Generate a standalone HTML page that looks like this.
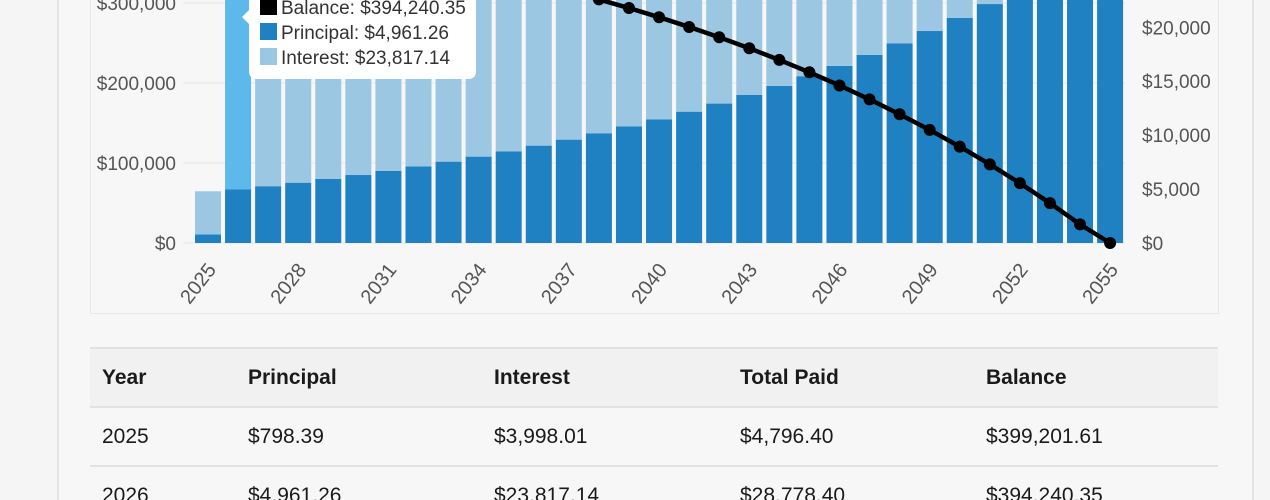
<!DOCTYPE html>
<html><head><meta charset="utf-8"><style>
html,body{margin:0;padding:0;background:#f5f5f5;width:1270px;height:500px;overflow:hidden;}
body{position:relative;font-family:"Liberation Sans",sans-serif;}
#card{position:absolute;left:57px;top:-10px;width:1193px;height:510px;border-left:2px solid #e4e4e4;border-right:2px solid #e4e4e4;background:#f7f7f7;}
#chartbox{position:absolute;left:90px;top:-5px;width:1127px;height:318px;border:1px solid #e8e8e8;border-top:none;background:#f7f7f7;}
svg{position:absolute;left:0;top:0;}
table{position:absolute;left:90px;top:347px;width:1128px;border-collapse:collapse;font-size:21px;color:#1a1a1a;}
th,td{text-align:left;padding:0 0 0 12px;border-top:2px solid #e2e2e2;}
th{height:57px;background:#f1f1f1;font-weight:bold;}
td{height:57px;}
</style></head><body>
<div id="card"></div>
<div id="chartbox"></div>
<svg id="chart" width="1270" height="320"></svg>
<table>
<tr><th style="width:134px">Year</th><th style="width:234px">Principal</th><th style="width:234px">Interest</th><th style="width:234px">Total Paid</th><th>Balance</th></tr>
<tr><td>2025</td><td>$798.39</td><td>$3,998.01</td><td>$4,796.40</td><td>$399,201.61</td></tr>
<tr><td>2026</td><td>$4,961.26</td><td>$23,817.14</td><td>$28,778.40</td><td>$394,240.35</td></tr>
</table>
<script>
const years=[2025,2026,2027,2028,2029,2030,2031,2032,2033,2034,2035,2036,2037,2038,2039,2040,2041,2042,2043,2044,2045,2046,2047,2048,2049,2050,2051,2052,2053,2054,2055];
const principal=[798,4961,5267,5592,5937,6303,6692,7105,7543,8008,8502,9027,9583,10175,10802,11469,12176,12927,13725,14571,15470,16424,17437,18513,19655,20867,22155,23521,24972,26512,23310];
const interest=[3998,23817,23511,23186,22841,22475,22086,21673,21235,20770,20276,19751,19195,18603,17976,17309,16602,15851,15053,14207,13308,12354,11341,10265,9123,7911,6623,5257,3806,2266,672];
const balance=[399202,394240,388973,383381,377444,371141,364449,357344,349801,341793,333291,324264,314681,304506,293704,282235,270059,257132,243407,228836,213366,196942,179505,160992,141337,120470,98315,74794,49822,23310,0];
const leftTicks=[0,100000,200000,300000];
const rightTicks=[0,5000,10000,15000,20000];
const ns='http://www.w3.org/2000/svg';
const svg=document.getElementById('chart');
const X0=208,STEP=30.07,BASE=243;
const xs=i=>X0+i*STEP;
const yL=v=>BASE-v*0.0008;
const yR=v=>BASE-v*0.010785;
function mk(t,a){const e=document.createElementNS(ns,t);for(const k in a)e.setAttribute(k,a[k]);svg.appendChild(e);return e;}
const fmt=v=>'$'+v.toLocaleString('en-US');
leftTicks.forEach(v=>{
 const g=mk('line',{x1:183,x2:1125,y1:yL(v),y2:yL(v),stroke:'#e6e6e6','stroke-width':1});
 
 
 const t=mk('text',{x:176,y:yL(v)+7,'text-anchor':'end','font-size':19,fill:'#555'});
 t.textContent=fmt(v);
 
 
});
rightTicks.forEach(v=>{
 const t=mk('text',{x:1142,y:yR(v)+7,'font-size':19,fill:'#555'});
 t.textContent=fmt(v);
 
 
});
years.forEach((yr,i)=>{
 const x=xs(i)-13,w=26;
 const hov=i===1;
 const p=mk('rect',{x:x,y:yR(principal[i]),width:w,height:BASE-yR(principal[i]),fill:'#1f80c2'});
 
 
 const q=mk('rect',{x:x,y:yR(principal[i]+interest[i]),width:w,height:yR(principal[i])-yR(principal[i]+interest[i]),fill:hov?'#5db9ec':'#9bc7e3'});
 
 
 if(i%3===0){
  const t=mk('text',{x:0,y:0,'text-anchor':'end','font-size':20,fill:'#555',transform:`translate(${xs(i)+9},${270}) rotate(-52)`});
  t.textContent=yr;
  
  
 }
});
const pts=balance.map((b,i)=>xs(i)+','+yL(b)).join(' ');
const l=mk('polyline',{points:pts,fill:'none',stroke:'#000','stroke-width':4.5});


balance.forEach((b,i)=>{
 const c=mk('circle',{cx:xs(i),cy:yL(b),r:6,fill:'#000'});
 
 
});
const tg=mk('g',{});


const tb=document.createElementNS(ns,'path');
tb.setAttribute('d','M257,-20 H468 Q476,-20 476,-12 V71 Q476,79 468,79 H257 Q249,79 249,71 V24 L242,17 L249,10 V-12 Q249,-20 257,-20 Z');
tb.setAttribute('fill','#fff');tg.appendChild(tb);
[['Balance: $394,240.35','#000',7],['Principal: $4,961.26','#1f80c2',32],['Interest: $23,817.14','#9bc7e3',57]].forEach(r=>{
 const s=document.createElementNS(ns,'rect');
 s.setAttribute('x',260);s.setAttribute('y',r[2]-9);s.setAttribute('width',17);s.setAttribute('height',17);s.setAttribute('fill',r[1]);
 tg.appendChild(s);
 const t=document.createElementNS(ns,'text');
 t.setAttribute('x',281);t.setAttribute('y',r[2]+7);t.setAttribute('font-size',19);t.setAttribute('fill','#333');
 t.textContent=r[0];tg.appendChild(t);
});
</script>
</body></html>
